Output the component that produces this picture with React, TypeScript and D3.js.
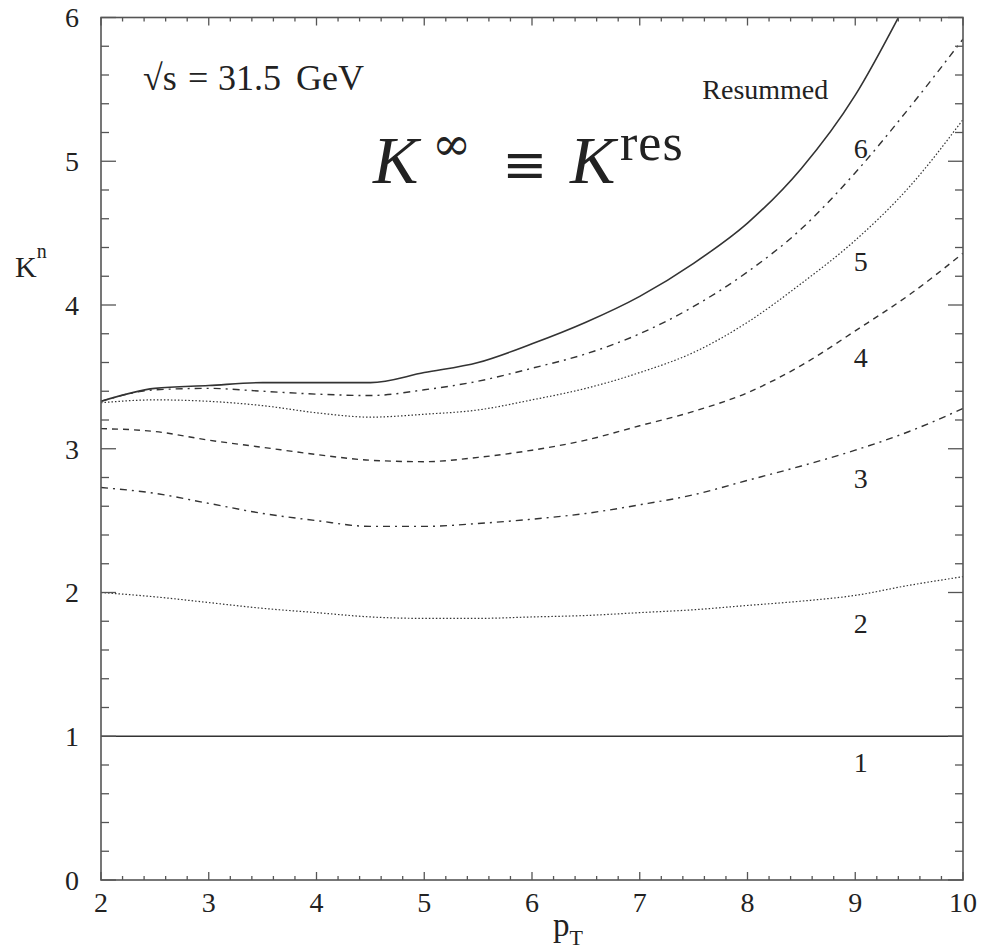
import React from "react";
import * as d3 from "d3";

// p_T grid the curves were read at
const pT = [2, 2.5, 3, 3.5, 4, 4.5, 5, 5.5, 6, 6.5, 7, 7.5, 8, 8.5, 9, 9.5, 10];
const pTRes = [2, 2.5, 3, 3.5, 4, 4.5, 5, 5.5, 6, 6.5, 7, 7.5, 8, 8.5, 9, 9.4];

const K1 = [1, 1, 1, 1, 1, 1, 1, 1, 1, 1, 1, 1, 1, 1, 1, 1, 1];
const K2 = [2.0, 1.97, 1.93, 1.89, 1.86, 1.83, 1.82, 1.82, 1.83, 1.84, 1.86, 1.88, 1.91, 1.94, 1.98, 2.05, 2.11];
const K3 = [2.73, 2.69, 2.62, 2.55, 2.5, 2.46, 2.46, 2.48, 2.51, 2.55, 2.61, 2.68, 2.78, 2.88, 2.99, 3.12, 3.28];
const K4 = [3.14, 3.12, 3.06, 3.01, 2.96, 2.92, 2.91, 2.94, 2.99, 3.06, 3.16, 3.26, 3.39, 3.58, 3.82, 4.07, 4.36];
const K5 = [3.32, 3.34, 3.33, 3.3, 3.25, 3.22, 3.24, 3.27, 3.34, 3.42, 3.53, 3.67, 3.88, 4.15, 4.45, 4.82, 5.29];
const K6 = [3.33, 3.41, 3.42, 3.4, 3.38, 3.37, 3.41, 3.47, 3.56, 3.66, 3.8, 3.99, 4.23, 4.53, 4.92, 5.37, 5.85];
const KRes = [3.33, 3.42, 3.44, 3.46, 3.46, 3.46, 3.53, 3.6, 3.73, 3.88, 4.06, 4.29, 4.57, 4.95, 5.46, 6.0];

const xTicks = [2, 3, 4, 5, 6, 7, 8, 9, 10];
const yTicks = [0, 1, 2, 3, 4, 5, 6];
const curveLabels = ["Resummed", "6", "5", "4", "3", "2", "1"];

const W = 982;
const H = 950;
const margin = { top: 17.5, right: 19, bottom: 70, left: 101 };
const serif = "Liberation Serif, DejaVu Serif, serif";
const ink = "#333";

const x = d3.scaleLinear().domain([2, 10]).range([margin.left, W - margin.right]);
const y = d3.scaleLinear().domain([0, 6]).range([H - margin.bottom, margin.top]);

const mk = (xs: number[], ys: number[]) =>
  d3.line<number>().x((_, i) => x(xs[i])).y((d) => y(d)).curve(d3.curveMonotoneX)(ys) || "";

const series = [
  { vals: KRes, xs: pTRes, dash: "none", w: 1.6 },
  { vals: K6, xs: pT, dash: "7,5,2,5", w: 1.4 },
  { vals: K5, xs: pT, dash: "1.5,2", w: 1.2 },
  { vals: K4, xs: pT, dash: "6,5", w: 1.4 },
  { vals: K3, xs: pT, dash: "7,5,2,5", w: 1.4 },
  { vals: K2, xs: pT, dash: "1.5,2", w: 1.2 },
  { vals: K1, xs: pT, dash: "none", w: 1.6 },
];

// label anchors (data coords) for each curve tag
const labelPos: [number, number][] = [
  [8.75, 5.43],
  [9.05, 5.02],
  [9.05, 4.24],
  [9.05, 3.57],
  [9.05, 2.73],
  [9.05, 1.72],
  [9.05, 0.75],
];

export default function App() {
  const x0 = x.range()[0];
  const x1 = x.range()[1];
  const y0 = y.range()[0];
  const y1 = y.range()[1];
  const xMinor = d3.range(2, 10.001, 0.2);
  const yMinor = d3.range(0, 6.001, 0.2);
  const isMajor = (v: number) => Math.abs(v - Math.round(v)) < 1e-6;
  const txt = { fontFamily: serif, fill: "#222" };

  return (
    <svg width={W} height={H} style={{ display: "block", position: "absolute", left: 0, top: 0 }}>
      <defs>
        <clipPath id="plot">
          <rect x={x0} y={y1} width={x1 - x0} height={y0 - y1} />
        </clipPath>
      </defs>
      <rect width={W} height={H} fill="#fff" />

      {/* curves */}
      <g clipPath="url(#plot)" fill="none" stroke={ink}>
        {series.map((s, i) => (
          <path key={i} d={mk(s.xs, s.vals)} strokeWidth={s.w} strokeDasharray={s.dash} />
        ))}
      </g>

      {/* frame */}
      <rect x={x0} y={y1} width={x1 - x0} height={y0 - y1} fill="none" stroke="#555" strokeWidth={1.6} />

      {/* ticks on all four sides */}
      <g stroke="#555" strokeWidth={1.3}>
        {xMinor.map((v, i) => {
          const len = isMajor(v) ? 8 : 4;
          return (
            <g key={i}>
              <line x1={x(v)} x2={x(v)} y1={y0} y2={y0 - len} />
              <line x1={x(v)} x2={x(v)} y1={y1} y2={y1 + len} />
            </g>
          );
        })}
        {yMinor.map((v, i) => {
          const len = isMajor(v) ? 15 : 8;
          return (
            <g key={i}>
              <line x1={x0} x2={x0 + len} y1={y(v)} y2={y(v)} />
              <line x1={x1} x2={x1 - len} y1={y(v)} y2={y(v)} />
            </g>
          );
        })}
      </g>

      <g style={{ ...txt, fontSize: 28 }}>
        {xTicks.map((t) => (
          <text key={t} x={x(t)} y={y0 + 32} textAnchor="middle">{t}</text>
        ))}
        {yTicks.map((t) => (
          <text key={t} x={x0 - 22} y={y(t)} dy="0.35em" textAnchor="end">{t}</text>
        ))}
      </g>

      {/* axis titles */}
      <text x={15} y={277} style={{ ...txt, fontSize: 30 }}>
        K<tspan dy={-19} style={{ fontSize: 20 }}>n</tspan>
      </text>
      <text x={553} y={936} style={{ ...txt, fontSize: 33 }}>
        p<tspan dy={9} style={{ fontSize: 22 }}>T</tspan>
      </text>

      {/* annotations */}
      <text y={90} style={{ ...txt, fontSize: 36 }}>
        <tspan x={143}>√s</tspan>
        <tspan x={188}>=</tspan>
        <tspan x={218}>31.5</tspan>
        <tspan x={296}>GeV</tspan>
      </text>
      <g style={txt}>
        <text x={373} y={183} style={{ fontSize: 68, fontStyle: "italic" }}>K</text>
        <text x={432} y={160} style={{ fontSize: 47, fontFamily: "DejaVu Serif, serif" }}>∞</text>
        <text x={502} y={183} style={{ fontSize: 54, fontFamily: "DejaVu Serif, serif" }}>≡</text>
        <text x={570} y={183} style={{ fontSize: 68, fontStyle: "italic" }}>K</text>
        <text x={620} y={160} style={{ fontSize: 52, letterSpacing: 1 }}>res</text>
      </g>

      <g style={{ ...txt, fontSize: 28 }}>
        {curveLabels.map((l, i) => (
          <text key={l} x={x(labelPos[i][0])} y={y(labelPos[i][1])}
            textAnchor={i === 0 ? "end" : "middle"}>{l}</text>
        ))}
      </g>
    </svg>
  );
}
